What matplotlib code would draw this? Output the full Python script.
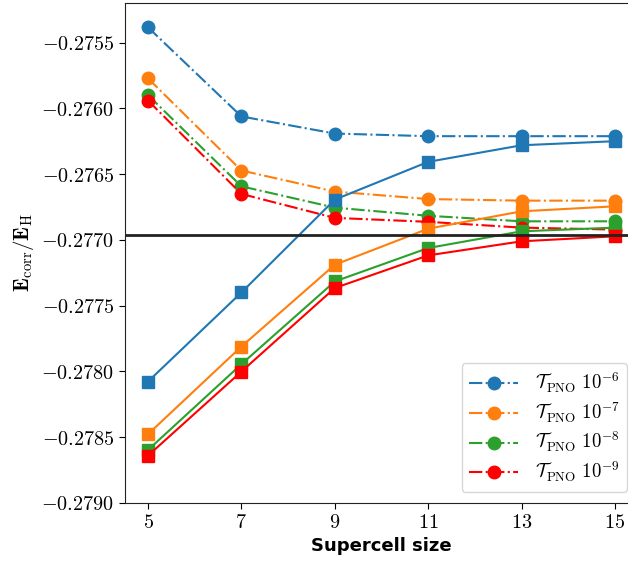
import matplotlib
matplotlib.use("Agg")
import matplotlib.pyplot as plt
from matplotlib.ticker import FuncFormatter

plt.rcParams['mathtext.fontset'] = 'cm'
plt.rcParams['font.family'] = 'DejaVu Sans'

# supercell sizes
sizes = [5, 7, 9, 11, 13, 15]

# dash-dot / circles
circ_6 = [-0.275385, -0.276062, -0.276192, -0.276212, -0.276212, -0.276212]
circ_7 = [-0.275773, -0.276473, -0.276633, -0.276690, -0.276702, -0.276702]
circ_8 = [-0.275900, -0.276593, -0.276755, -0.276817, -0.276859, -0.276859]
circ_9 = [-0.275941, -0.276651, -0.276833, -0.276863, -0.276907, -0.276922]

# solid / squares
sq_6 = [-0.278077, -0.277400, -0.276694, -0.276407, -0.276281, -0.276250]
sq_7 = [-0.278477, -0.277811, -0.277189, -0.276915, -0.276783, -0.276745]
sq_8 = [-0.278597, -0.277945, -0.277316, -0.277062, -0.276935, -0.276907]
sq_9 = [-0.278640, -0.278001, -0.277366, -0.277118, -0.277011, -0.276973]

ref_energy = -0.27696

labels = [r'$\mathcal{T}_{\rm PNO}\ 10^{-6}$', r'$\mathcal{T}_{\rm PNO}\ 10^{-7}$',
          r'$\mathcal{T}_{\rm PNO}\ 10^{-8}$', r'$\mathcal{T}_{\rm PNO}\ 10^{-9}$']
colors = ['tab:blue', 'tab:orange', 'tab:green', 'red']

fig = plt.figure(figsize=(6.28, 5.63), dpi=100)
ax = fig.add_axes([0.1985, 0.1066, 0.818, 0.888])

for ys, c, lab in zip([circ_6, circ_7, circ_8, circ_9], colors, labels):
    ax.plot(sizes, ys, '-.', color=c, marker='o', markersize=9, linewidth=1.5, label=lab)
for ys, c in zip([sq_6, sq_7, sq_8, sq_9], colors):
    ax.plot(sizes, ys, '-', color=c, marker='s', markersize=8.5, linewidth=1.5)

ax.axhline(ref_energy, color='#222222', linewidth=2)

ax.set_xlim(4.5, 15.5)
ax.set_ylim(-0.2790, -0.2752)
ax.set_xticks(sizes)
ax.set_yticks([-0.2790, -0.2785, -0.2780, -0.2775, -0.2770, -0.2765, -0.2760, -0.2755])
ax.xaxis.set_major_formatter(FuncFormatter(lambda v, p: r'$%d$' % v))
ax.yaxis.set_major_formatter(FuncFormatter(lambda v, p: r'$%.4f$' % v))
ax.tick_params(labelsize=14.5, direction='out', length=4)
for s in ax.spines.values():
    s.set_color('#222222')

ax.set_xlabel('Supercell size', fontsize=13, fontweight='bold', labelpad=3)
ax.set_ylabel(r'$\mathbf{E}_{\rm corr}/\mathbf{E}_{\rm H}$', fontsize=15, labelpad=4)
ax.legend(loc='lower right', fontsize=13.5, labelspacing=0.3, handlelength=2.6,
          handletextpad=0.9, borderaxespad=0.6)

fig.savefig('out.png', dpi=100)
